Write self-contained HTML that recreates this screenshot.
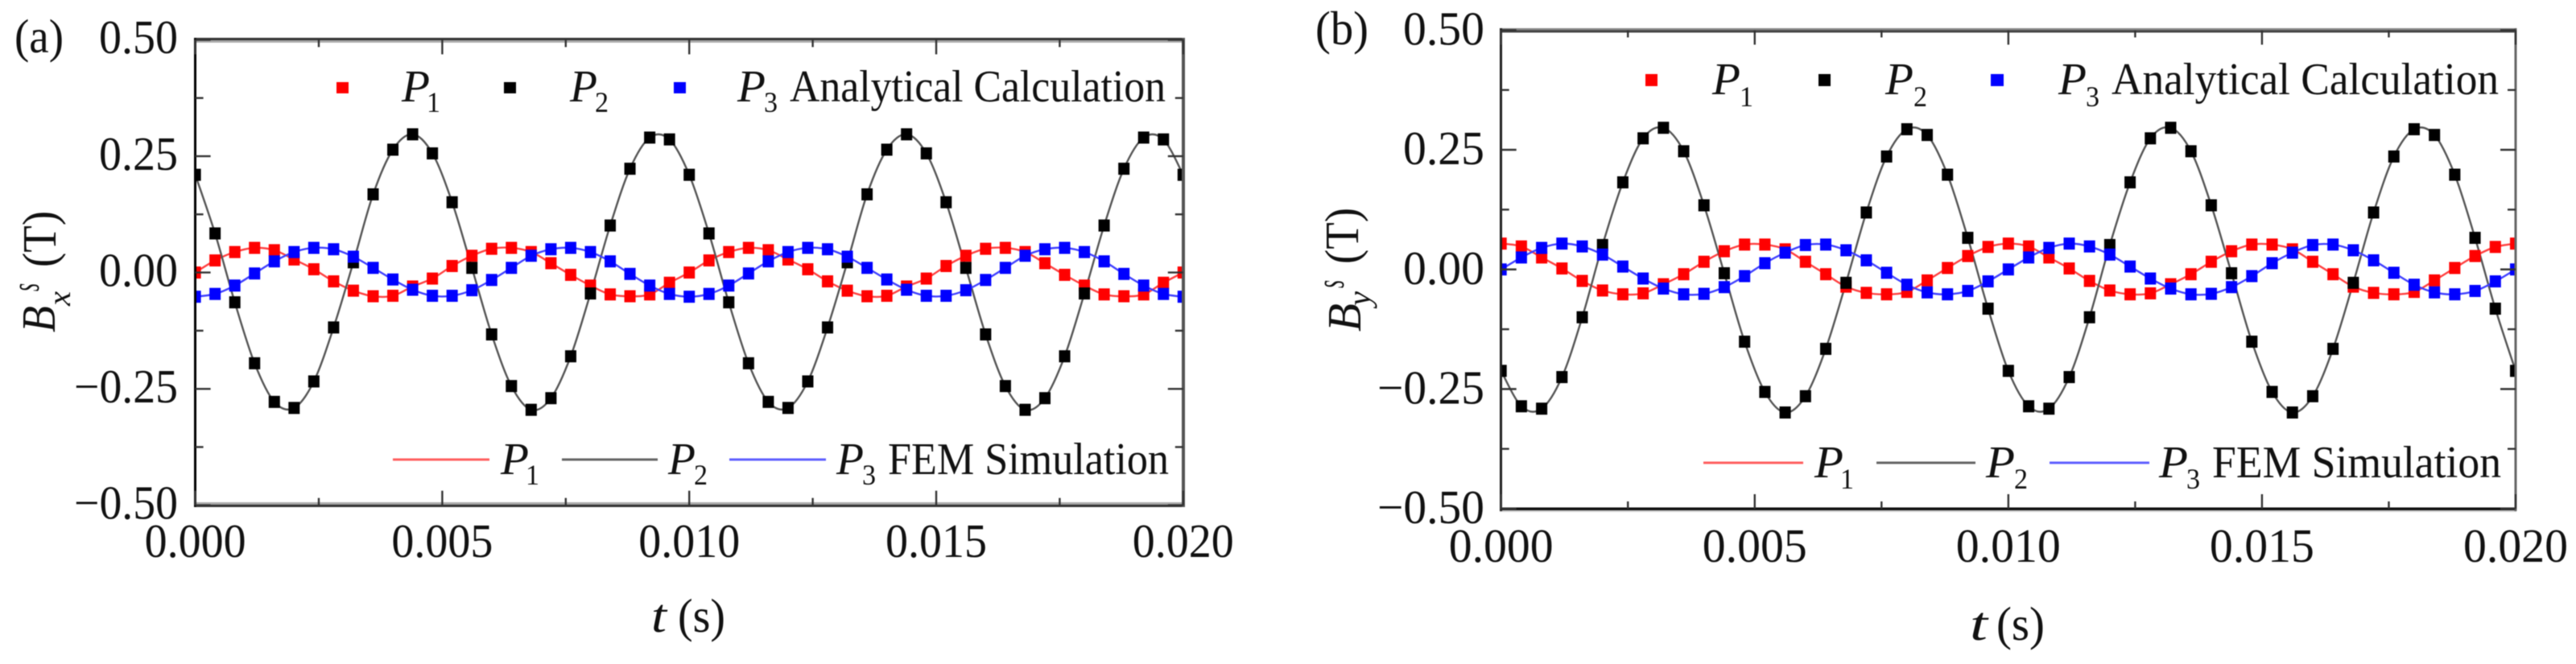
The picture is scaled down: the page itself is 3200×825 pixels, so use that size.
<!DOCTYPE html>
<html lang="en">
<head>
<meta charset="utf-8">
<title>Stator flux density waveforms</title>
<style>
html,body{margin:0;padding:0;background:#fff;width:3200px;height:825px;overflow:hidden}
svg{display:block;filter:blur(0.6px)}
text{font-family:"Liberation Serif",serif;fill:#111}
.i{font-style:italic}
.m{font-size:59px}
.l{font-size:56px}
.s{font-size:36px}
</style>
</head>
<body>
<svg id="fig" xmlns="http://www.w3.org/2000/svg" width="3200" height="825" viewBox="0 0 3200 825">
<rect x="0" y="0" width="3200" height="825" fill="#fff"/>
<defs>
<clipPath id="clip-a"><rect x="243" y="49" width="1227" height="579"/></clipPath>
<clipPath id="clip-b"><rect x="1865" y="37" width="1260" height="595"/></clipPath>
</defs>

<g id="panel-a">
<text class="m" x="18" y="65" textLength="61" lengthAdjust="spacingAndGlyphs">(a)</text>
<g id="plot-a"></g>
<g id="frame-a">
<rect x="241" y="50" width="1231" height="3" fill="#aaa"/>
<rect x="241" y="47" width="1231" height="3" fill="#333"/>
<rect x="241" y="624" width="1231" height="3" fill="#aaa"/>
<rect x="241" y="627" width="1231" height="3" fill="#333"/>
<rect x="241" y="47" width="3" height="583" fill="#000"/>
<rect x="1468" y="47" width="4" height="583" fill="#555"/>
</g>
<g>
<text class="m i" transform="translate(68,413) rotate(-90)" textLength="33" lengthAdjust="spacingAndGlyphs">B</text>
<text style="font-size:40px" class="i" transform="translate(87,380) rotate(-90)" textLength="18" lengthAdjust="spacingAndGlyphs">x</text>
<text style="font-size:50px" class="i" transform="translate(48,362) rotate(-90)" textLength="10" lengthAdjust="spacingAndGlyphs">s</text>
<text class="m" transform="translate(69,332) rotate(-90)" textLength="70" lengthAdjust="spacingAndGlyphs">(T)</text>
</g>
<g>
<text class="m i" x="809" y="785" textLength="19" lengthAdjust="spacingAndGlyphs">t</text>
<text class="m" x="842" y="785" textLength="59" lengthAdjust="spacingAndGlyphs">(s)</text>
</g>
<g>
<rect x="418" y="102" width="15" height="14" fill="#f00"/>
<text class="l i" x="499" y="126" textLength="35" lengthAdjust="spacingAndGlyphs">P</text>
<text class="s" x="530" y="139" textLength="17" lengthAdjust="spacingAndGlyphs">1</text>
<rect x="626" y="102" width="15" height="14" fill="#000"/>
<text class="l i" x="708" y="126" textLength="34" lengthAdjust="spacingAndGlyphs">P</text>
<text class="s" x="739" y="139" textLength="17" lengthAdjust="spacingAndGlyphs">2</text>
<rect x="837" y="102" width="15" height="14" fill="#00f"/>
<text class="l i" x="916" y="126" textLength="35" lengthAdjust="spacingAndGlyphs">P</text>
<text class="s" x="949" y="139" textLength="17" lengthAdjust="spacingAndGlyphs">3</text>
<text class="l" x="981" y="126" textLength="467" lengthAdjust="spacingAndGlyphs">Analytical Calculation</text>
</g>
<g>
<rect x="488" y="569.5" width="120" height="3" fill="#ff6060"/>
<text class="l i" x="622" y="589" textLength="35" lengthAdjust="spacingAndGlyphs">P</text>
<text class="s" x="653" y="602" textLength="17" lengthAdjust="spacingAndGlyphs">1</text>
<rect x="698" y="569.5" width="119" height="3" fill="#666"/>
<text class="l i" x="830" y="589" textLength="34" lengthAdjust="spacingAndGlyphs">P</text>
<text class="s" x="862" y="602" textLength="17" lengthAdjust="spacingAndGlyphs">2</text>
<rect x="906" y="569.5" width="120" height="3" fill="#6060ff"/>
<text class="l i" x="1039" y="589" textLength="34" lengthAdjust="spacingAndGlyphs">P</text>
<text class="s" x="1071" y="602" textLength="17" lengthAdjust="spacingAndGlyphs">3</text>
<text class="l" x="1103" y="589" textLength="349" lengthAdjust="spacingAndGlyphs">FEM Simulation</text>
</g>
</g>

<g id="panel-b">
<text class="m" x="1634" y="55" textLength="66" lengthAdjust="spacingAndGlyphs">(b)</text>
<g id="plot-b"></g>
<g id="frame-b">
<rect x="1863" y="35" width="1263" height="2.5" fill="#888"/>
<rect x="1863" y="37.5" width="1263" height="3" fill="#444"/>
<rect x="1863" y="630.5" width="1263" height="3.5" fill="#111"/>
<rect x="1863" y="634" width="1263" height="2" fill="#ccc"/>
<rect x="1863" y="35" width="3" height="600" fill="#222"/>
<rect x="3123.5" y="35" width="3" height="600" fill="#666"/>
</g>
<g>
<text class="m i" transform="translate(1690,412) rotate(-90)" textLength="35" lengthAdjust="spacingAndGlyphs">B</text>
<text style="font-size:40px" class="i" transform="translate(1702,380) rotate(-90)" textLength="18" lengthAdjust="spacingAndGlyphs">y</text>
<text style="font-size:50px" class="i" transform="translate(1669,358) rotate(-90)" textLength="10" lengthAdjust="spacingAndGlyphs">s</text>
<text class="m" transform="translate(1687,328) rotate(-90)" textLength="70" lengthAdjust="spacingAndGlyphs">(T)</text>
</g>
<g>
<text class="m i" x="2447" y="795" textLength="22" lengthAdjust="spacingAndGlyphs">t</text>
<text class="m" x="2480" y="795" textLength="60" lengthAdjust="spacingAndGlyphs">(s)</text>
</g>
<g>
<rect x="2044" y="92" width="15" height="15" fill="#f00"/>
<text class="l i" x="2127" y="117" textLength="35" lengthAdjust="spacingAndGlyphs">P</text>
<text class="s" x="2161" y="132" textLength="17" lengthAdjust="spacingAndGlyphs">1</text>
<rect x="2259" y="92" width="15" height="15" fill="#000"/>
<text class="l i" x="2342" y="117" textLength="35" lengthAdjust="spacingAndGlyphs">P</text>
<text class="s" x="2377" y="132" textLength="17" lengthAdjust="spacingAndGlyphs">2</text>
<rect x="2473" y="92" width="16" height="15" fill="#00f"/>
<text class="l i" x="2557" y="117" textLength="35" lengthAdjust="spacingAndGlyphs">P</text>
<text class="s" x="2591" y="132" textLength="17" lengthAdjust="spacingAndGlyphs">3</text>
<text class="l" x="2623" y="117" textLength="481" lengthAdjust="spacingAndGlyphs">Analytical Calculation</text>
</g>
<g>
<rect x="2116" y="573.5" width="124" height="3" fill="#ff6060"/>
<text class="l i" x="2254" y="593" textLength="36" lengthAdjust="spacingAndGlyphs">P</text>
<text class="s" x="2286" y="607" textLength="17" lengthAdjust="spacingAndGlyphs">1</text>
<rect x="2331" y="573.5" width="123" height="3" fill="#666"/>
<text class="l i" x="2467" y="593" textLength="36" lengthAdjust="spacingAndGlyphs">P</text>
<text class="s" x="2502" y="607" textLength="17" lengthAdjust="spacingAndGlyphs">2</text>
<rect x="2546" y="573.5" width="124" height="3" fill="#6060ff"/>
<text class="l i" x="2682" y="593" textLength="36" lengthAdjust="spacingAndGlyphs">P</text>
<text class="s" x="2716" y="607" textLength="17" lengthAdjust="spacingAndGlyphs">3</text>
<text class="l" x="2748" y="593" textLength="359" lengthAdjust="spacingAndGlyphs">FEM Simulation</text>
</g>
</g>
</svg>

<script>
var sampleTimes = [0,.0004,.0008,.0012,.0016,.002,.0024,.0028,.0032,.0036,.004,.0044,.0048,.0052,.0056,.006,.0064,.0068,.0072,.0076,.008,.0084,.0088,.0092,.0096,.01,.0104,.0108,.0112,.0116,.012,.0124,.0128,.0132,.0136,.014,.0144,.0148,.0152,.0156,.016,.0164,.0168,.0172,.0176,.018,.0184,.0188,.0192,.0196,.02];

var xMajorTicks = [0,.005,.01,.015,.02];
var xMinorTicks = [.0025,.0075,.0125,.0175];
var xTickLabels = ["0.000","0.005","0.010","0.015","0.020"];
var yMajorTicks = [-.5,-.25,0,.25,.5];
var yMinorTicks = [-.375,-.125,.125,.375];
var yTickLabels = ["\u22120.50","\u22120.25","0.00","0.25","0.50"];

var analyticA1 = [0,.026,.044,.053,.048,.028,.007,-.019,-.039,-.051,-.05,-.03,-.013,.014,.036,.051,.053,.044,.02,-.005,-.028,-.047,-.051,-.047,-.022,0,.026,.044,.053,.048,.028,.007,-.019,-.039,-.051,-.05,-.03,-.013,.014,.036,.051,.053,.044,.02,-.005,-.028,-.047,-.051,-.047,-.022,0];
var analyticA2 = [.21,.084,-.064,-.195,-.278,-.291,-.234,-.118,.022,.168,.264,.297,.256,.151,.01,-.133,-.244,-.295,-.27,-.18,-.045,.101,.223,.29,.286,.21,.084,-.064,-.195,-.278,-.291,-.234,-.118,.022,.168,.264,.297,.256,.151,.01,-.133,-.244,-.295,-.27,-.18,-.045,.101,.223,.29,.286,.21];
var analyticA3 = [-.052,-.046,-.028,-.002,.024,.044,.053,.05,.034,.01,-.015,-.037,-.05,-.05,-.038,-.016,.01,.036,.05,.053,.044,.024,-.003,-.028,-.046,-.052,-.046,-.028,-.002,.024,.044,.053,.05,.034,.01,-.015,-.037,-.05,-.05,-.038,-.016,.01,.036,.05,.053,.044,.024,-.003,-.028,-.046,-.052];
var femA1 = [0,.026,.044,.053,.048,.028,.007,-.019,-.039,-.051,-.05,-.03,-.013,.014,.036,.051,.053,.044,.02,-.005,-.028,-.047,-.051,-.047,-.022,0,.026,.044,.053,.048,.028,.007,-.019,-.039,-.051,-.05,-.03,-.013,.014,.036,.051,.053,.044,.02,-.005,-.028,-.047,-.051,-.047,-.022,0];
var femA2 = [.21,.084,-.064,-.195,-.278,-.291,-.234,-.118,.022,.168,.264,.297,.256,.151,.01,-.133,-.244,-.295,-.27,-.18,-.045,.101,.223,.29,.286,.21,.084,-.064,-.195,-.278,-.291,-.234,-.118,.022,.168,.264,.297,.256,.151,.01,-.133,-.244,-.295,-.27,-.18,-.045,.101,.223,.29,.286,.21];
var femA3 = [-.052,-.046,-.028,-.002,.024,.044,.053,.05,.034,.01,-.015,-.037,-.05,-.05,-.038,-.016,.01,.036,.05,.053,.044,.024,-.003,-.028,-.046,-.052,-.046,-.028,-.002,.024,.044,.053,.05,.034,.01,-.015,-.037,-.05,-.05,-.038,-.016,.01,.036,.05,.053,.044,.024,-.003,-.028,-.046,-.052];

var analyticB1 = [.054,.048,.025,.002,-.024,-.044,-.052,-.05,-.031,-.01,.016,.038,.052,.052,.042,.016,-.01,-.036,-.049,-.052,-.047,-.023,.003,.028,.047,.054,.048,.025,.002,-.024,-.044,-.052,-.05,-.031,-.01,.016,.038,.052,.052,.042,.016,-.01,-.036,-.049,-.052,-.047,-.023,.003,.028,.047,.054];
var analyticB2 = [-.212,-.286,-.291,-.225,-.1,.051,.182,.274,.296,.247,.134,-.008,-.151,-.256,-.299,-.265,-.166,-.028,.119,.236,.293,.281,.198,.066,-.082,-.212,-.286,-.291,-.225,-.1,.051,.182,.274,.296,.247,.134,-.008,-.151,-.256,-.299,-.265,-.166,-.028,.119,.236,.293,.281,.198,.066,-.082,-.212];
var analyticB3 = [0,.025,.045,.054,.048,.031,.006,-.019,-.04,-.052,-.051,-.037,-.014,.013,.035,.051,.052,.04,.019,-.007,-.032,-.048,-.052,-.045,-.025,0,.025,.045,.054,.048,.031,.006,-.019,-.04,-.052,-.051,-.037,-.014,.013,.035,.051,.052,.04,.019,-.007,-.032,-.048,-.052,-.045,-.025,0];
var femB1 = [.054,.048,.025,.002,-.024,-.044,-.052,-.05,-.031,-.01,.016,.038,.052,.052,.042,.016,-.01,-.036,-.049,-.052,-.047,-.023,.003,.028,.047,.054,.048,.025,.002,-.024,-.044,-.052,-.05,-.031,-.01,.016,.038,.052,.052,.042,.016,-.01,-.036,-.049,-.052,-.047,-.023,.003,.028,.047,.054];
var femB2 = [-.212,-.286,-.291,-.225,-.1,.051,.182,.274,.296,.247,.134,-.008,-.151,-.256,-.299,-.265,-.166,-.028,.119,.236,.293,.281,.198,.066,-.082,-.212,-.286,-.291,-.225,-.1,.051,.182,.274,.296,.247,.134,-.008,-.151,-.256,-.299,-.265,-.166,-.028,.119,.236,.293,.281,.198,.066,-.082,-.212];
var femB3 = [0,.025,.045,.054,.048,.031,.006,-.019,-.04,-.052,-.051,-.037,-.014,.013,.035,.051,.052,.04,.019,-.007,-.032,-.048,-.052,-.045,-.025,0,.025,.045,.054,.048,.031,.006,-.019,-.04,-.052,-.051,-.037,-.014,.013,.035,.051,.052,.04,.019,-.007,-.032,-.048,-.052,-.045,-.025,0];

var NS = "http://www.w3.org/2000/svg";

function node(tag, parent) {
  var el = document.createElementNS(NS, tag);
  parent.appendChild(el);
  return el;
}

function smoothPath(xs, ys) {
  var d = "M" + xs[0].toFixed(2) + " " + ys[0].toFixed(2);
  for (var i = 0; i < xs.length - 1; i++) {
    var a = Math.max(i - 1, 0), b = Math.min(i + 2, xs.length - 1);
    var c1x = xs[i] + (xs[i + 1] - xs[a]) / 6, c1y = ys[i] + (ys[i + 1] - ys[a]) / 6;
    var c2x = xs[i + 1] - (xs[b] - xs[i]) / 6, c2y = ys[i + 1] - (ys[b] - ys[i]) / 6;
    d += "C" + c1x.toFixed(2) + " " + c1y.toFixed(2) + " " + c2x.toFixed(2) + " " + c2y.toFixed(2) + " " + xs[i + 1].toFixed(2) + " " + ys[i + 1].toFixed(2);
  }
  return d;
}

function drawPanel(cfg) {
  var plot = document.getElementById(cfg.plotId);
  var frame = document.getElementById(cfg.frameId);
  var panel = document.getElementById(cfg.panelId);
  function xScale(t) { return cfg.x0 + (t - 0) / 0.02 * (cfg.x1 - cfg.x0); }
  function yScale(v) { return cfg.y0 + (0.5 - v) / 1 * (cfg.y1 - cfg.y0); }

  var clipped = node("g", plot);
  clipped.setAttribute("clip-path", "url(#" + cfg.clip + ")");
  
  

  var xs = sampleTimes.map(xScale);

  cfg.fem.forEach(function (s) {
    var line = node("path", clipped);
    line.setAttribute("d", smoothPath(xs, s.values.map(yScale)));
    line.setAttribute("fill", "none");
    line.setAttribute("stroke", s.color);
    line.setAttribute("stroke-width", "2.4");
    
    
  });

  cfg.analytic.forEach(function (s) {
    s.values.forEach(function (v, i) {
      var mark = node("rect", clipped);
      mark.setAttribute("x", (xScale(sampleTimes[i]) - 7).toFixed(2));
      mark.setAttribute("y", (yScale(v) - 7.5).toFixed(2));
      mark.setAttribute("width", "14");
      mark.setAttribute("height", "15");
      mark.setAttribute("fill", s.color);
      
      
    });
  });

  function tick(x1, y1, x2, y2) {
    var t = node("line", frame);
    t.setAttribute("x1", x1);
    t.setAttribute("y1", y1);
    t.setAttribute("x2", x2);
    t.setAttribute("y2", y2);
    t.setAttribute("stroke", "#333");
    t.setAttribute("stroke-width", "2.4");
    
    
  }

  xMajorTicks.forEach(function (t) {
    var x = xScale(t);
    tick(x, cfg.y0, x, cfg.y0 + 18);
    tick(x, cfg.y1, x, cfg.y1 - 18);
  });
  xMinorTicks.forEach(function (t) {
    var x = xScale(t);
    tick(x, cfg.y0, x, cfg.y0 + 9);
    tick(x, cfg.y1, x, cfg.y1 - 9);
  });
  yMajorTicks.forEach(function (v) {
    var y = yScale(v);
    tick(cfg.x0, y, cfg.x0 + 19, y);
    tick(cfg.x1, y, cfg.x1 - 19, y);
  });
  yMinorTicks.forEach(function (v) {
    var y = yScale(v);
    tick(cfg.x0, y, cfg.x0 + 10, y);
    tick(cfg.x1, y, cfg.x1 - 10, y);
  });

  xTickLabels.forEach(function (label, i) {
    var t = node("text", panel);
    t.textContent = label;
    t.setAttribute("class", "m");
    t.setAttribute("x", xScale(xMajorTicks[i]).toFixed(1));
    t.setAttribute("y", cfg.xLabelBaseline);
    t.setAttribute("text-anchor", "middle");
    t.setAttribute("textLength", cfg.xLabelWidth);
    t.setAttribute("lengthAdjust", "spacingAndGlyphs");
    
    
  });
  yTickLabels.forEach(function (label, i) {
    var t = node("text", panel);
    t.textContent = label;
    t.setAttribute("class", "m");
    t.setAttribute("x", cfg.yLabelRight);
    t.setAttribute("y", (yScale(yMajorTicks[i]) + cfg.yLabelShift).toFixed(1));
    t.setAttribute("text-anchor", "end");
    t.setAttribute("textLength", yMajorTicks[i] < 0 ? cfg.yLabelWidthNeg : cfg.yLabelWidth);
    t.setAttribute("lengthAdjust", "spacingAndGlyphs");
    
    
  });
}

drawPanel({
  panelId: "panel-a", plotId: "plot-a", frameId: "frame-a", clip: "clip-a",
  x0: 242.6, x1: 1469.8, y0: 49.5, y1: 627.7,
  xLabelBaseline: 692, xLabelWidth: 126,
  yLabelRight: 221, yLabelShift: 16.7, yLabelWidth: 98, yLabelWidthNeg: 129,
  fem: [
    { name: "p1", color: "#ff4040", values: femA1 },
    { name: "p2", color: "#555555", values: femA2 },
    { name: "p3", color: "#4040ff", values: femA3 }
  ],
  analytic: [
    { name: "p1", color: "#ff0000", values: analyticA1 },
    { name: "p2", color: "#000000", values: analyticA2 },
    { name: "p3", color: "#0000ff", values: analyticA3 }
  ]
});

drawPanel({
  panelId: "panel-b", plotId: "plot-b", frameId: "frame-b", clip: "clip-b",
  x0: 1864.7, x1: 3125, y0: 37.5, y1: 632,
  xLabelBaseline: 698, xLabelWidth: 130,
  yLabelRight: 1844, yLabelShift: 18, yLabelWidth: 101, yLabelWidthNeg: 133,
  fem: [
    { name: "p1", color: "#ff4040", values: femB1 },
    { name: "p2", color: "#555555", values: femB2 },
    { name: "p3", color: "#4040ff", values: femB3 }
  ],
  analytic: [
    { name: "p1", color: "#ff0000", values: analyticB1 },
    { name: "p2", color: "#000000", values: analyticB2 },
    { name: "p3", color: "#0000ff", values: analyticB3 }
  ]
});
</script>
</body>
</html>
